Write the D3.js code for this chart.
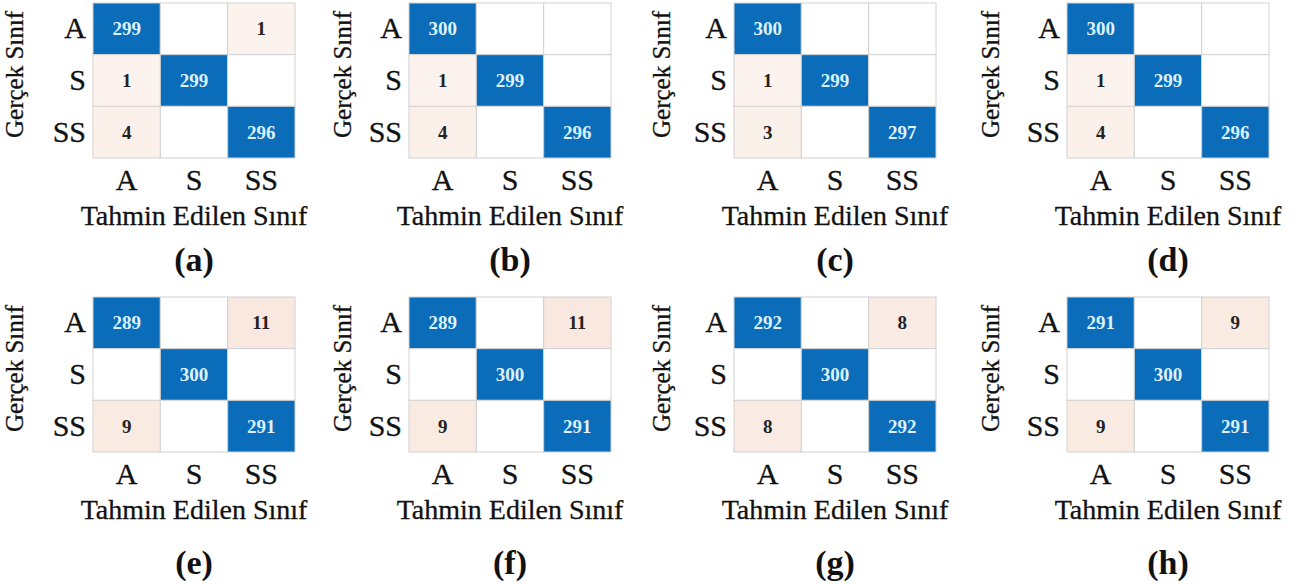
<!DOCTYPE html>
<html>
<head>
<meta charset="utf-8">
<script src="https://cdn.jsdelivr.net/npm/d3@7"></script>
<style>
  body { margin: 0; background: #fff; }
  text { font-family: 'Liberation Serif', 'Times New Roman', serif; }
</style>
</head>
<body>
<div class="chart"></div>
<script>
// classes (rows = actual, columns = predicted)
const classes = ['A', 'S', 'SS'];
const panelLabels = ['(a)', '(b)', '(c)', '(d)', '(e)', '(f)', '(g)', '(h)'];
const yTitle = 'Gerçek Sınıf';
const xTitle = 'Tahmin Edilen Sınıf';

// confusion matrices, one per panel
const matA = [[299, 0, 1], [1, 299, 0], [4, 0, 296]];
const matB = [[300, 0, 0], [1, 299, 0], [4, 0, 296]];
const matC = [[300, 0, 0], [1, 299, 0], [3, 0, 297]];
const matD = [[300, 0, 0], [1, 299, 0], [4, 0, 296]];
const matE = [[289, 0, 11], [0, 300, 0], [9, 0, 291]];
const matF = [[289, 0, 11], [0, 300, 0], [9, 0, 291]];
const matG = [[292, 0, 8], [0, 300, 0], [8, 0, 292]];
const matH = [[291, 0, 9], [0, 300, 0], [9, 0, 291]];
const matrices = [matA, matB, matC, matD, matE, matF, matG, matH];

// layout
const width = 1307, height = 584;
const gridLeft = [93, 409, 734, 1067];
const gridTop = [3, 297];
const yTitleOffset = [-70, -58, -64, -68];
const letterBaseline = [271, 574];
const gridW = 202, gridH = 155;

const blue = '#0b6cb9';
const offScale = d3.scaleLinear().domain([1, 11]).range(['#fcf3ee', '#f8e8df']);

const svg = d3.select('.chart').append('svg')
    .attr('width', width).attr('height', height)
    .style('background', '#fff');

matrices.forEach((mat, i) => {
    const row = Math.floor(i / 4), col = i % 4;
    const g = svg.append('g')
        .attr('transform', `translate(${gridLeft[col]},${gridTop[row]})`);

    const x = d3.scaleBand().domain(classes).range([0, gridW]);
    const y = d3.scaleBand().domain(classes).range([0, gridH]);

    const cells = [];
    mat.forEach((r, ri) => r.forEach((v, ci) => cells.push({ r: classes[ri], c: classes[ci], diag: ri === ci, v })));

    g.selectAll('.cell').data(cells).enter().append('rect')
        .attr('class', 'cell')
        .attr('x', d => x(d.c))
        .attr('y', d => y(d.r))
        .attr('width', x.bandwidth())
        .attr('height', y.bandwidth())
        .style('fill', d => d.v === 0 ? '#fff' : (d.diag ? blue : offScale(d.v)))
        .style('stroke', '#d2d2d2')
        .style('stroke-width', 1);

    g.selectAll('.val').data(cells.filter(d => d.v > 0)).enter().append('text')
        .attr('class', 'val')
        .attr('x', d => x(d.c) + x.bandwidth() / 2)
        .attr('y', d => y(d.r) + y.bandwidth() / 2)
        .attr('text-anchor', 'middle')
        .attr('dy', '0.35em')
        .style('font-size', '19px')
        .style('font-weight', 'bold')
        .style('fill', d => d.diag ? '#dcf2ff' : '#222')
        .text(d => d.v);

    // axes
    const yAxis = d3.axisLeft(y).tickSize(0).tickPadding(7);
    const yAxisDraw = g.append('g').attr('class', 'y axis').call(yAxis);
    yAxisDraw.select('.domain').remove();
    yAxisDraw.selectAll('text')
        .style('font-family', "'Liberation Serif', serif")
        .style('font-size', '30px').style('fill', '#111')
        .style('stroke', '#111').style('stroke-width', 0.3);

    const xAxis = d3.axisBottom(x).tickSize(0).tickPadding(11);
    const xAxisDraw = g.append('g').attr('class', 'x axis')
        .attr('transform', `translate(0,${gridH})`).call(xAxis);
    xAxisDraw.select('.domain').remove();
    xAxisDraw.selectAll('text')
        .style('font-family', "'Liberation Serif', serif")
        .style('font-size', '30px').style('fill', '#111')
        .style('stroke', '#111').style('stroke-width', 0.3);

    // titles
    g.append('text')
        .attr('transform', `translate(${yTitleOffset[col]},${gridH / 2 - 6}) rotate(-90)`)
        .attr('text-anchor', 'middle')
        .style('font-size', '25px').style('fill', '#111')
        .style('stroke', '#111').style('stroke-width', 0.3)
        .text(yTitle);

    g.append('text')
        .attr('x', gridW / 2)
        .attr('y', gridH + 67)
        .attr('text-anchor', 'middle')
        .style('font-size', '28px').style('fill', '#111')
        .style('stroke', '#111').style('stroke-width', 0.3)
        .text(xTitle);

    g.append('text')
        .attr('x', gridW / 2)
        .attr('y', letterBaseline[row] - gridTop[row])
        .attr('text-anchor', 'middle')
        .style('font-size', '34px').style('font-weight', 'bold').style('fill', '#111')
        .text(panelLabels[i]);
});
</script>
</body>
</html>
